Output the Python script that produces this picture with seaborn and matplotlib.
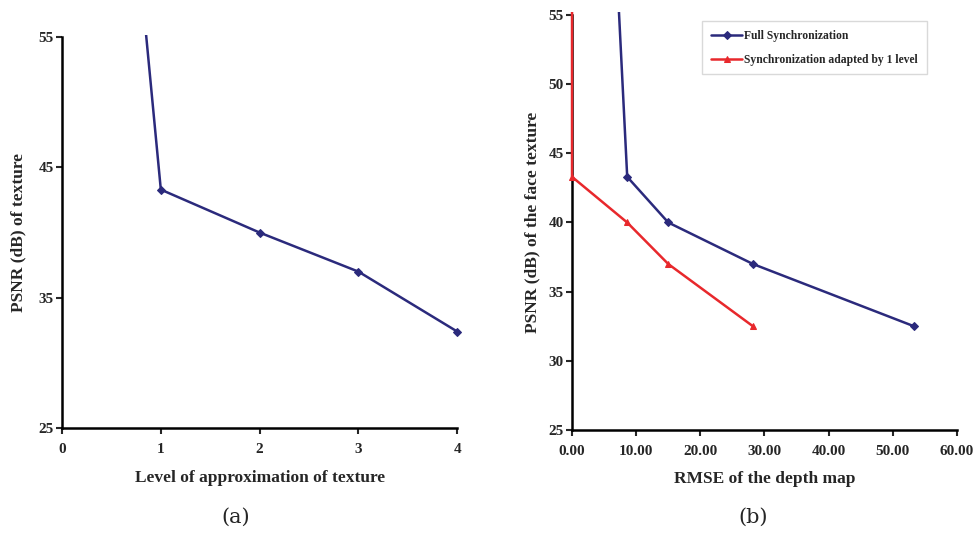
import matplotlib
matplotlib.use("Agg")
import matplotlib.pyplot as plt
from matplotlib.patches import Rectangle
import seaborn as sns
import numpy as np

# données
niveaux = [0, 1, 2, 3, 4]
psnr_texture = [123.0, 43.3, 40.0, 37.0, 32.4]

rmse_full = [0.0, 8.6, 15.0, 28.2, 53.3]
psnr_full = [123.0, 43.3, 40.0, 37.0, 32.5]
rmse_adapt = [0.0, 0.0, 8.6, 15.0, 28.2]
psnr_adapt = [123.0, 43.3, 40.0, 37.0, 32.5]

bleu = "#2b2a7c"
rouge = "#e8282c"

sns.set_style("ticks")
plt.rcParams['font.family'] = ['Liberation Serif', 'DejaVu Serif']
plt.rcParams['font.weight'] = 'bold'

fig = plt.figure(figsize=(9.75, 5.39), dpi=100)
ax1 = fig.add_axes([0.0636, 0.206, 0.4054, 0.725])
ax2 = fig.add_axes([0.5867, 0.2022, 0.3948, 0.7700])

# (a)
sns.lineplot(x=niveaux, y=psnr_texture, ax=ax1, sort=False, estimator=None,
             color=bleu, linewidth=1.8, marker='D', markersize=4.5,
             markeredgecolor=bleu)
ax1.set_xlim(0, 4)
ax1.set_ylim(25, 55)
ax1.set_xticks([0, 1, 2, 3, 4])
ax1.set_yticks([25, 35, 45, 55])
ax1.set_xlabel("Level of approximation of texture", fontsize=12.5, fontweight='bold', labelpad=10)
ax1.set_ylabel("PSNR (dB) of texture", fontsize=12.5, fontweight='bold', labelpad=9)

# (b)
sns.lineplot(x=rmse_full, y=psnr_full, ax=ax2, sort=False, estimator=None,
             color=bleu, linewidth=1.8, marker='D', markersize=4.5,
             markeredgecolor=bleu, label="Full Synchronization")
sns.lineplot(x=rmse_adapt, y=psnr_adapt, ax=ax2, sort=False, estimator=None,
             color=rouge, linewidth=1.8, marker='^', markersize=4.5,
             markeredgecolor=rouge, label="Synchronization adapted by 1 level")
ax2.set_xlim(0, 60)
ax2.set_ylim(25, 55)
ax2.set_xticks(np.arange(0, 61, 10))
ax2.set_xticklabels([f"{v:.2f}" for v in np.arange(0, 61, 10)])
ax2.set_yticks([25, 30, 35, 40, 45, 50, 55])
ax2.set_xlabel("RMSE of the depth map", fontsize=12.5, fontweight='bold', labelpad=9)
ax2.set_ylabel("PSNR (dB) of the face texture", fontsize=12.5, fontweight='bold', labelpad=6)

# lignes au-dessus des axes, coupées seulement en haut
for ax in (ax1, ax2):
    x0, x1 = ax.get_xlim()
    for ln in ax.get_lines():
        ln.set_zorder(3)
        ln.set_clip_path(Rectangle((x0 - (x1 - x0) * 0.05, 25), (x1 - x0) * 1.1, 30.2,
                                   transform=ax.transData))

leg = ax2.legend(loc='upper left', bbox_to_anchor=(0.338, 0.985), fontsize=8.4,
                 frameon=True, fancybox=False, borderpad=0.75, labelspacing=1.0,
                 handlelength=2.7, handletextpad=0.15, borderaxespad=0)
leg.get_frame().set_edgecolor("#d0d0d0")
leg.get_frame().set_linewidth(1.0)
for t in leg.get_texts():
    t.set_fontweight('bold')

for ax in (ax1, ax2):
    sns.despine(ax=ax)
    for s in ('left', 'bottom'):
        ax.spines[s].set_linewidth(1.8)
        ax.spines[s].set_color('black')
    ax.tick_params(direction='out', length=4, width=1.5, labelsize=11, pad=7)
    for lab in ax.get_xticklabels() + ax.get_yticklabels():
        lab.set_fontweight('bold')
    ax.tick_params(axis='y', pad=2)

fig.text(0.242, 0.04, "(a)", ha='center', va='center', fontsize=15,
         fontweight='normal', family=['DejaVu Serif'])
fig.text(0.772, 0.04, "(b)", ha='center', va='center', fontsize=15,
         fontweight='normal', family=['DejaVu Serif'])

fig.savefig("out.png", dpi=100)
